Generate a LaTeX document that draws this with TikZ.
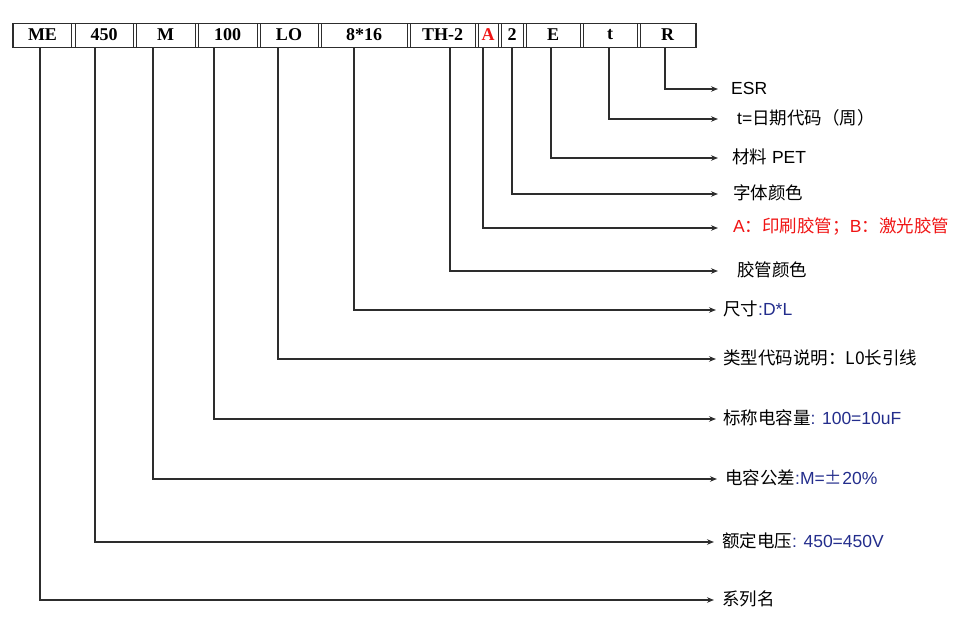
\documentclass[tikz,border=0pt]{standalone}
\usepackage{fontspec}
\setmainfont{Liberation Sans}
\newfontfamily\cjk{Noto Sans CJK SC}
\newfontfamily\boxfont{Liberation Serif}
\usetikzlibrary{arrows.meta}
\definecolor{navy}{RGB}{35,45,140}
\definecolor{lred}{RGB}{240,20,20}
\definecolor{linec}{RGB}{45,45,45}
\begin{document}
\begin{tikzpicture}[x=1pt,y=-1pt,
  cell/.style={draw=linec, line width=0.9pt, minimum height=24pt, inner sep=0pt,
    font=\boxfont\bfseries\fontsize{18}{18}\selectfont},
  lbl/.style={anchor=west, inner sep=0pt, font=\fontsize{17.5}{18}\selectfont},
  arr/.style={draw=linec, line width=1.1pt, -{Stealth[length=7pt,width=5.5pt]}}]
\useasboundingbox (0,0) rectangle (975,626);
% outer frame
\draw[linec, line width=0.9pt] (12,23) rectangle (696,47);
% cells
\node[cell, minimum width=58pt] (ME)  at (42.5,35) {ME};
\node[cell, minimum width=58pt] (V450) at (104,35) {450};
\node[cell, minimum width=59pt] (M)   at (165.5,35) {M};
\node[cell, minimum width=59pt] (C100) at (227.5,35) {100};
\node[cell, minimum width=58pt] (LO)  at (289,35) {LO};
\node[cell, minimum width=86pt] (S816) at (364,35) {8*16};
\node[cell, minimum width=65pt] (TH)  at (442.5,35) {TH-2};
\node[cell, minimum width=20pt, text=lred] (A) at (488,35) {A};
\node[cell, minimum width=22pt] (F2)  at (512,35) {2};
\node[cell, minimum width=54pt] (E)   at (553,35) {E};
\node[cell, minimum width=54pt] (T)   at (610,35) {t};
\node[cell, minimum width=55pt] (R)   at (667.5,35) {R};
% labels
\node[lbl] (lR) at (731,88) {ESR};
\node[lbl] (lT) at (737,118) {t={\cjk 日期代码（周）}};
\node[lbl] (lE) at (732,157) {{\cjk 材料} PET};
\node[lbl] (lF2) at (733,193) {\cjk 字体颜色};
\node[lbl, text=lred] (lA) at (733,227) {A{\cjk ：印刷胶管；}B{\cjk ：激光胶管}};
\node[lbl] (lTH) at (737,270) {\cjk 胶管颜色};
\node[lbl] (lS816) at (723,309) {{\cjk 尺寸}\textcolor{navy}{:D*L}};
\node[lbl] (lLO) at (723,358) {\cjk 类型代码说明：L0长引线};
\node[lbl] (lC100) at (723,418) {{\cjk 标称电容量}\textcolor{navy}{: 100=10uF}};
\node[lbl] (lM) at (725,478) {{\cjk 电容公差}\textcolor{navy}{:M={\cjk ±}20\%}};
\node[lbl] (lV450) at (722,541) {{\cjk 额定电压}\textcolor{navy}{: 450=450V}};
\node[lbl] (lME) at (722,599) {\cjk 系列名};
% arrow tips
\coordinate (tR) at (718,89);
\coordinate (tT) at (718,119);
\coordinate (tE) at (718,158);
\coordinate (tF2) at (718,194);
\coordinate (tA) at (718,228);
\coordinate (tTH) at (718,271);
\coordinate (tS816) at (716,310);
\coordinate (tLO) at (716,359);
\coordinate (tC100) at (716,419);
\coordinate (tM) at (717,479);
\coordinate (tV450) at (714,542);
\coordinate (tME) at (714,600);
% connectors
\draw[arr] ([xshift=-2.5pt]R.south) |- (tR);
\draw[arr] ([xshift=-1pt]T.south) |- (tT);
\draw[arr] ([xshift=-2pt]E.south) |- (tE);
\draw[arr] (F2.south) |- (tF2);
\draw[arr] ([xshift=-5pt]A.south) |- (tA);
\draw[arr] ([xshift=7.5pt]TH.south) |- (tTH);
\draw[arr] ([xshift=-10pt]S816.south) |- (tS816);
\draw[arr] ([xshift=-11pt]LO.south) |- (tLO);
\draw[arr] ([xshift=-13.5pt]C100.south) |- (tC100);
\draw[arr] ([xshift=-12.5pt]M.south) |- (tM);
\draw[arr] ([xshift=-9pt]V450.south) |- (tV450);
\draw[arr] ([xshift=-2.5pt]ME.south) |- (tME);
\end{tikzpicture}
\end{document}
